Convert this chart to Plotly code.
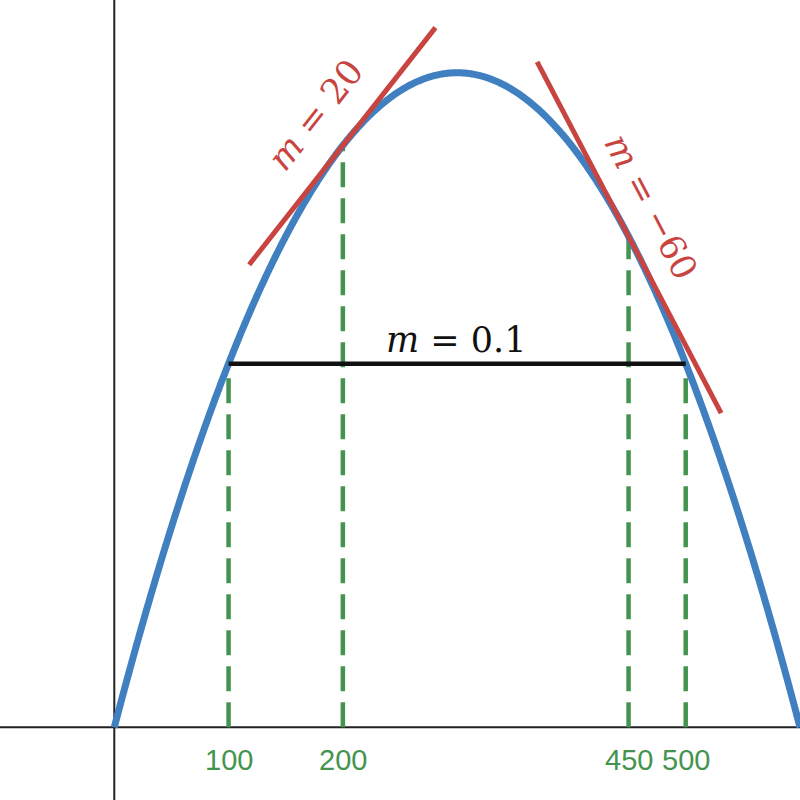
import numpy as np
import plotly.graph_objects as go

# Parabola f(x) = a * x * (root - x)
coef_a = 0.1
root_right = 600
curve_x = np.linspace(0, 600, 601)

# marked x positions (green dashed guides)
mark_x = [100, 200, 450, 500]
mark_labels = ["100", "200", "450", "500"]

# tangent lines: touch point, true slope, x-extent
tan_points = [200, 450]
tan_slopes = [20, -30]
tan_extents = [(118, 281), (370, 531)]
tan_labels = ["<i>m</i> = 20", "<i>m</i> = −60"]
tan_label_pos = [(176, 8420), (470, 7160)]
tan_label_angles = [-51.7, 62.4]

# secant (horizontal) line
secant_x = [100, 500]
secant_label = "<i>m</i> = 0.1"

BLUE = "#4080c0"
RED = "#c84440"
GREEN = "#44944f"


def f(x):
    x = np.asarray(x, dtype=float)
    return coef_a * x * (root_right - x)


fig = go.Figure()

# green dashed verticals
for xm in mark_x:
    fig.add_trace(go.Scatter(x=[xm, xm], y=[0, float(f(xm))], mode="lines",
                             line=dict(color=GREEN, width=4.5, dash="25px,11px"),
                             hoverinfo="skip", showlegend=False))

# parabola
fig.add_trace(go.Scatter(x=curve_x, y=f(curve_x), mode="lines",
                         line=dict(color=BLUE, width=7, simplify=False),
                         showlegend=False))

# secant
fig.add_trace(go.Scatter(x=secant_x, y=list(f(secant_x)), mode="lines",
                         line=dict(color="#111111", width=4.5), showlegend=False))

# tangents
for x0, m, (xa, xb) in zip(tan_points, tan_slopes, tan_extents):
    y0 = float(f(x0))
    xs = [xa, xb]
    ys = [y0 + m * (xa - x0), y0 + m * (xb - x0)]
    fig.add_trace(go.Scatter(x=xs, y=ys, mode="lines",
                             line=dict(color=RED, width=5), showlegend=False))

annotations = []
for (lx, ly), txt, ang in zip(tan_label_pos, tan_labels, tan_label_angles):
    annotations.append(dict(x=lx, y=ly, text=txt, textangle=ang, showarrow=False,
                            font=dict(family="DejaVu Serif", size=35, color=RED)))
annotations.append(dict(x=299, y=5330, text=secant_label, showarrow=False,
                        font=dict(family="DejaVu Serif", size=35, color="#111111")))
for xm, lab in zip(mark_x, mark_labels):
    annotations.append(dict(x=xm, y=-450, text=lab, showarrow=False,
                            font=dict(family="Liberation Sans", size=29, color=GREEN)))

# axes lines
shapes = [
    dict(type="line", xref="x", yref="paper", x0=0, x1=0, y0=0, y1=1,
         line=dict(color="#222222", width=2), layer="below"),
    dict(type="line", xref="paper", yref="y", x0=0, x1=1, y0=0, y1=0,
         line=dict(color="#222222", width=2), layer="below"),
]

fig.update_layout(
    width=800, height=800,
    margin=dict(l=0, r=0, t=0, b=0),
    paper_bgcolor="white", plot_bgcolor="white",
    xaxis=dict(range=[-100, 600], visible=False, fixedrange=True),
    yaxis=dict(range=[-1000, 10000], visible=False, fixedrange=True),
    annotations=annotations, shapes=shapes, showlegend=False,
)

fig.write_html("out.html", config={"displayModeBar": False},
               post_script="document.body.style.margin='0';document.body.style.overflow='hidden';")
